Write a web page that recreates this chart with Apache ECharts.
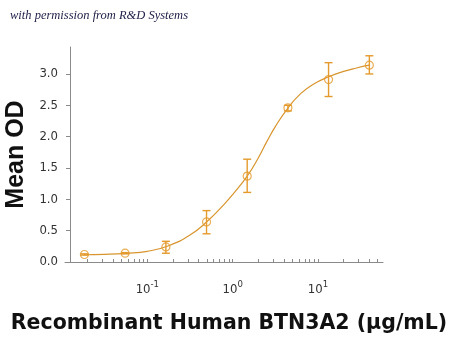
<!DOCTYPE html>
<html><head><meta charset="utf-8">
<script src="https://cdn.jsdelivr.net/npm/echarts@6/dist/echarts.min.js"></script>
<style>html,body{margin:0;padding:0;background:#fff}#c{width:450px;height:341px}</style>
</head><body><div id="c"></div>
<script>
// Measured points (concentration in µg/mL, mean OD, error bar ends)
const concentrations = [0.0183, 0.0549, 0.165, 0.494, 1.48, 4.44, 13.3, 40];
const meanOD = [0.12, 0.14, 0.24, 0.64, 1.37, 2.46, 2.91, 3.14];
const errLow = [0.11, 0.13, 0.14, 0.45, 1.11, 2.41, 2.64, 3.00];
const errHigh = [0.13, 0.15, 0.33, 0.82, 1.64, 2.50, 3.18, 3.29];
// Fitted curve
const fitX = [0.0178, 0.0316, 0.0562, 0.1, 0.178, 0.316, 0.501, 0.794, 1.0, 1.479, 1.995, 2.512, 3.162, 4.467, 6.31, 8.913, 13.34, 19.95, 28.18, 39.81];
const fitY = [0.116, 0.122, 0.138, 0.17, 0.26, 0.43, 0.645, 0.92, 1.075, 1.37, 1.66, 1.92, 2.16, 2.46, 2.69, 2.84, 2.955, 3.04, 3.095, 3.14];
// Ticks
const yTicks = [0, 0.5, 1.0, 1.5, 2.0, 2.5, 3.0];
const xMajorTicks = [0.1, 1, 10];
const xMinorTicks = [0.02,0.03,0.04,0.05,0.06,0.07,0.08,0.09,0.2,0.3,0.4,0.5,0.6,0.7,0.8,0.9,2,3,4,5,6,7,8,9,20,30,40,50];

const markColor = '#E49A2C';
const lineColor = '#D8952E';
const axisColor = '#8a8a8a';
const tickFont = '"Liberation Sans Narrow", "DejaVu Sans Condensed", "Roboto Condensed", "Liberation Sans", sans-serif';

const chart = echarts.init(document.getElementById('c'), null, {renderer: 'canvas'});
const pts = concentrations.map((c, i) => [c, meanOD[i]]);
const errs = concentrations.map((c, i) => [c, errLow[i], errHigh[i]]);
const fit = fitX.map((c, i) => [c, fitY[i]]);

chart.setOption({
  animation: false,
  backgroundColor: '#fff',
  grid: {left: 65, right: 67, top: 47, bottom: 79, containLabel: false, outerBoundsMode: 'none'},
  xAxis: {
    type: 'log', logBase: 10, min: 0.01084, max: 57.8, offset: 5,
    name: 'Recombinant Human BTN3A2 (\u03bcg/mL)',
    nameLocation: 'middle', nameGap: 46,
    nameTextStyle: {fontFamily: '"DejaVu Sans", sans-serif', fontWeight: 'bold', fontSize: 20.5, color: '#111', padding: [0, 0, 0, 10]},
    axisLine: {show: true, lineStyle: {color: axisColor, width: 1}},
    axisTick: {show: true, inside: true, length: 3, lineStyle: {color: axisColor}, customValues: xMinorTicks.concat(xMajorTicks)},
    axisLabel: {
      customValues: xMajorTicks, margin: 13,
      formatter: v => '{b|10}{s|' + Math.round(Math.log10(v)) + '}',
      rich: {
        b: {fontFamily: tickFont, fontSize: 13, color: '#333', lineHeight: 16, verticalAlign: 'bottom'},
        s: {fontFamily: tickFont, fontSize: 9.5, color: '#333', lineHeight: 16, verticalAlign: 'top'}
      }
    },
    splitLine: {show: false}, minorTick: {show: false}
  },
  yAxis: {
    type: 'value', min: 0, max: 3.43, offset: -5,
    name: 'Mean OD', nameLocation: 'middle', nameGap: 40, nameRotate: 90,
    nameTextStyle: {fontFamily: '"Liberation Sans", Arial, sans-serif', fontWeight: 'bold', fontSize: 25, color: '#111'},
    axisLine: {show: true, lineStyle: {color: axisColor, width: 1}},
    axisTick: {show: true, inside: false, length: 4, lineStyle: {color: axisColor}, customValues: yTicks},
    axisLabel: {customValues: yTicks, margin: 12, fontFamily: tickFont, fontSize: 13, color: '#333', formatter: v => v.toFixed(1)},
    splitLine: {show: false}
  },
  graphic: [{
    type: 'text', left: 10, top: 9,
    style: {text: 'with permission from R&D Systems', font: 'italic 12.5px "Liberation Serif", serif', fill: '#23234a'}
  }],
  series: [
    {
      type: 'line', data: fit, smooth: 0.5, showSymbol: false, symbol: 'none',
      lineStyle: {color: lineColor, width: 1.2}, z: 2
    },
    {
      type: 'custom', data: errs, z: 3,
      renderItem: (params, api) => {
        const lo = api.coord([api.value(0), api.value(1)]);
        const hi = api.coord([api.value(0), api.value(2)]);
        const w = 4;
        const st = {stroke: markColor, lineWidth: 1.4};
        return {type: 'group', children: [
          {type: 'line', shape: {x1: lo[0], y1: lo[1], x2: hi[0], y2: hi[1]}, style: st},
          {type: 'line', shape: {x1: lo[0]-w, y1: lo[1], x2: lo[0]+w, y2: lo[1]}, style: st},
          {type: 'line', shape: {x1: hi[0]-w, y1: hi[1], x2: hi[0]+w, y2: hi[1]}, style: st}
        ]};
      }
    },
    {
      type: 'scatter', data: pts, symbol: 'circle', symbolSize: 8, z: 4,
      itemStyle: {color: 'rgba(0,0,0,0)', borderColor: markColor, borderWidth: 1.2}
    }
  ]
});
</script></body></html>
